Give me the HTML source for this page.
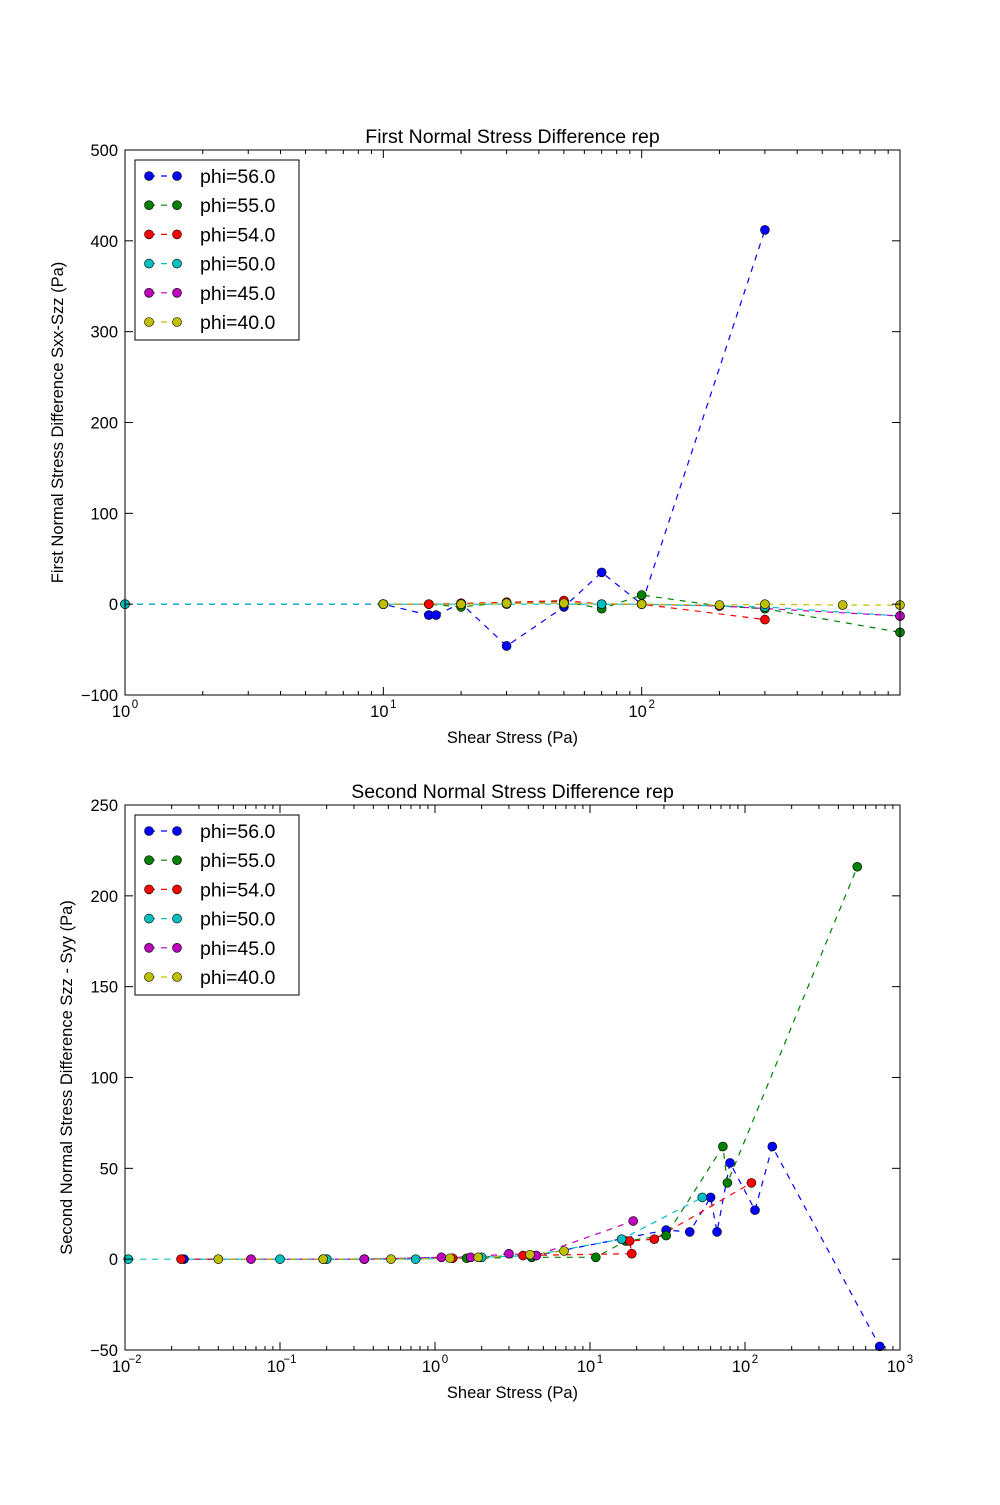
<!DOCTYPE html>
<html><head><meta charset="utf-8"><style>
body{margin:0;background:#fff;}
svg text{font-family:"Liberation Sans","DejaVu Sans",sans-serif;}
</style></head><body>
<svg id="fig" width="1000" height="1500" xmlns="http://www.w3.org/2000/svg"></svg>
<script>
const seriesNames=["phi=56.0","phi=55.0","phi=54.0","phi=50.0","phi=45.0","phi=40.0"];
const colors=["#0000ff","#008000","#ff0000","#00bfbf","#bf00bf","#bfbf00"];
// top chart data
const t56x=[1,10,15,16,20,30,50,70,100,300];
const t56y=[0,0,-12,-12,1,-46,-3,35,0,412];
const t55x=[10,15,20,30,50,70,100,200,300,1000];
const t55y=[0,0,-3,2,3,-5,10,-2,-5,-31];
const t54x=[10,15,20,30,50,70,100,300];
const t54y=[0,0,1,2,4,0,0,-17];
const t50x=[1,10,20,30,50,70,100,300,1000];
const t50y=[0,0,0,0,0,0,0,-3,-13];
const t45x=[10,20,30,50,100,200,1000];
const t45y=[0,0,1,1,0,-2,-13];
const t40x=[10,20,30,50,100,200,300,600,1000];
const t40y=[0,0,1,1,0,-1,0,-1,-1];
// bottom chart data
const b56x=[0.024,0.35,4.5,31,44,60,66,80,116,150,740];
const b56y=[0,0,2,16,15,34,15,53,27,62,-48];
const b55x=[0.2,1.6,4.2,10.9,17,31,72,77,530];
const b55y=[0,0.5,1,1,10,13,62,42,216];
const b54x=[0.023,0.19,0.35,1.3,3.7,18.6,18,26,110];
const b54y=[0,0,0,0.5,2,3,10,11,42];
const b50x=[0.0105,0.1,0.2,0.75,2.0,4.2,16,53];
const b50y=[0,0,0,0,1,2,11,34];
const b45x=[0.065,0.35,1.1,1.7,3,4.5,19];
const b45y=[0,0,1,1,3,2,21];
const b40x=[0.04,0.19,0.52,1.25,1.9,4.1,6.8];
const b40y=[0,0,0,0.5,1,2.5,4.5];
const topX=[t56x,t55x,t54x,t50x,t45x,t40x], topY=[t56y,t55y,t54y,t50y,t45y,t40y];
const botX=[b56x,b55x,b54x,b50x,b45x,b40x], botY=[b56y,b55y,b54y,b50y,b45y,b40y];
const topYTicks=[-100,0,100,200,300,400,500];
const botYTicks=[-50,0,50,100,150,200,250];

const NS="http://www.w3.org/2000/svg";
const svg=document.getElementById('fig');
function el(tag,attrs,parent,txt){const e=document.createElementNS(NS,tag);for(const k in attrs)e.setAttribute(k,attrs[k]);if(txt!==undefined)e.textContent=txt;(parent||svg).appendChild(e);return e;}

function chart(cfg){
  const g=el('g',{});
  
  
  const {L,T,R,B,xmin,xmax,ymin,ymax}=cfg;
  const sx=v=>L+(Math.log10(v)-Math.log10(xmin))/(Math.log10(xmax)-Math.log10(xmin))*(R-L);
  const sy=v=>B-(v-ymin)/(ymax-ymin)*(B-T);
  const clip='clip'+cfg.name;
  const cp=el('clipPath',{id:clip},g);el('rect',{x:L,y:T,width:R-L,height:B-T},cp);
  const plot=el('g',{'clip-path':'url(#'+clip+')'},g);
  for(let s=0;s<6;s++){
    const xs=cfg.X[s],ys=cfg.Y[s];
    const pts=xs.map((x,i)=>sx(x).toFixed(1)+','+sy(ys[i]).toFixed(1)).join(' ');
    const ln=el('polyline',{points:pts,fill:'none',stroke:colors[s],'stroke-width':1.2,'stroke-dasharray':'6,6'},plot);
    
    
  }
  for(let s=0;s<6;s++){
    const xs=cfg.X[s],ys=cfg.Y[s];
    xs.forEach((x,i)=>{
      const c=el('circle',{cx:sx(x),cy:sy(ys[i]),r:4.5,fill:colors[s],stroke:'#000','stroke-width':0.6},g);
      
      
    });
  }
  el('rect',{x:L,y:T,width:R-L,height:B-T,fill:'none',stroke:'#000','stroke-width':1},g);
  cfg.yticks.forEach(v=>{
    const y=sy(v);
    el('line',{x1:L,x2:L+8,y1:y,y2:y,stroke:'#000'},g);
    el('line',{x1:R,x2:R-8,y1:y,y2:y,stroke:'#000'},g);
    const t=el('text',{x:L-7,y:y+6,'text-anchor':'end','font-size':16.5},g,v<0?'\u2212'+(-v):String(v));
    
    
  });
  const e0=Math.round(Math.log10(xmin)),e1=Math.ceil(Math.log10(xmax));
  for(let e=e0;e<=e1;e++){
    for(let m=1;m<10;m++){
      const v=m*Math.pow(10,e); if(v<xmin*0.999||v>xmax*1.001)continue;
      const x=sx(v),len=m===1?8:4;
      el('line',{x1:x,x2:x,y1:B,y2:B-len,stroke:'#000'},g);
      el('line',{x1:x,x2:x,y1:T,y2:T+len,stroke:'#000'},g);
      if(m===1&&cfg.xlabels.includes(e)){
        const t=el('text',{x:x-4,y:B+22,'text-anchor':'middle','font-size':16.5},g,'10');
        
        
        el('text',{x:x+10,y:B+13,'text-anchor':'middle','font-size':11.5},g,e<0?'\u2212'+(-e):String(e));
      }
    }
  }
  const ti=el('text',{x:(L+R)/2,y:T-7,'text-anchor':'middle','font-size':19.5},g,cfg.title);
  
  const xl=el('text',{x:(L+R)/2,y:B+48,'text-anchor':'middle','font-size':16.5},g,'Shear Stress (Pa)');
  
  const yl=el('text',{x:0,y:0,'text-anchor':'middle','font-size':16.5,transform:`translate(${cfg.ylx},${(T+B)/2}) rotate(-90)`},g,cfg.ylabel);
  
  const lg=el('g',{},g);
  
  el('rect',{x:L+10,y:T+10,width:164,height:180,fill:'#fff',stroke:'#000','stroke-width':1},lg);
  seriesNames.forEach((n,i)=>{
    const y=T+26+i*29.2;
    const en=el('g',{},lg);
    
    el('line',{x1:L+24,x2:L+52,y1:y,y2:y,stroke:colors[i],'stroke-width':1.2,'stroke-dasharray':'6,6'},en);
    el('circle',{cx:L+24,cy:y,r:4.5,fill:colors[i],stroke:'#000','stroke-width':0.6},en);
    el('circle',{cx:L+52,cy:y,r:4.5,fill:colors[i],stroke:'#000','stroke-width':0.6},en);
    el('text',{x:L+75,y:y+7,'font-size':19.5},en,n);
  });
}
chart({name:'first-normal-stress-chart',L:125,T:150,R:900,B:695,xmin:1,xmax:1000,ymin:-100,ymax:500,
  X:topX,Y:topY,yticks:topYTicks,xlabels:[0,1,2],title:'First Normal Stress Difference rep',
  ylabel:'First Normal Stress Difference Sxx-Szz (Pa)',ylx:63});
chart({name:'second-normal-stress-chart',L:125,T:805,R:900,B:1350,xmin:0.01,xmax:1000,ymin:-50,ymax:250,
  X:botX,Y:botY,yticks:botYTicks,xlabels:[-2,-1,0,1,2,3],title:'Second Normal Stress Difference rep',
  ylabel:'Second Normal Stress Difference Szz - Syy (Pa)',ylx:72});
</script>
</body></html>
